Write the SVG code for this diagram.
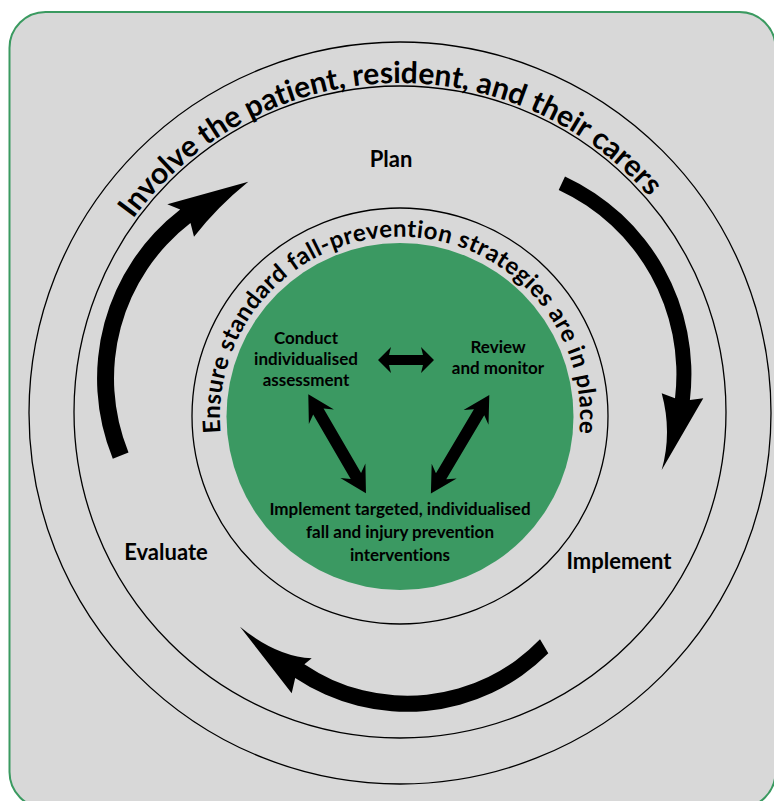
<svg xmlns="http://www.w3.org/2000/svg" width="774" height="801" viewBox="0 0 774 801">
  <style>
    text { font-variant-ligatures: none; font-feature-settings: "liga" 0, "clig" 0; }
    .lbl { font-family: "Lato", "Open Sans", sans-serif; font-weight: 700; fill: #000; text-anchor: middle; }
    .step { font-size: 22px; }
    .inner { font-size: 17px; }
    .ring { fill: none; stroke: #000; stroke-width: 1.3; }
    .arc-text { font-family: "Lato", "Open Sans", sans-serif; font-weight: 700; fill: #000; }
    .blk { fill: #000; stroke: none; }
  </style>
  <defs>
    <!-- text baselines -->
    <path id="outerBase" d="M75,470.3 A330,330 0 1 1 725,470.3"/>
    <path id="innerBase" d="M222.7,447.8 A180,180 0 1 1 577.3,447.8"/>
    <!-- double-headed arrow along the x axis -->
    <path id="dblLong" d="M0,0 L26,-14.5 L20,-6 L94.5,-6 L88.5,-14.5 L114.5,0 L88.5,14.5 L94.5,6 L20,6 L26,14.5 Z"/>
    <path id="dblShort" d="M0,0 L13,-13 L11,-5 L45,-5 L43,-13 L56,0 L43,13 L45,5 L11,5 L13,13 Z"/>
  </defs>

  <!-- background panel -->
  <g id="panel">
    <rect x="9.5" y="12" width="766" height="796" rx="36" ry="36" fill="#d8d8d8" stroke="#3a9a60" stroke-width="2"/>
  </g>

  <!-- concentric rings and central disc -->
  <g id="rings">
    <circle class="ring" cx="400" cy="413" r="371"/>
    <circle class="ring" cx="400" cy="412" r="326"/>
    <circle class="ring" cx="400" cy="416" r="208"/>
    <circle cx="400" cy="416.5" r="173.5" fill="#3b9962"/>
  </g>

  <!-- curved labels -->
  <g id="outer-label">
    <text class="arc-text" font-size="30"><textPath href="#outerBase" startOffset="265" textLength="593" lengthAdjust="spacing">Involve the patient, resident, and their carers</textPath></text>
  </g>
  <g id="inner-label">
    <text class="arc-text" font-size="24"><textPath href="#innerBase" startOffset="15" textLength="598" lengthAdjust="spacing">Ensure standard fall-prevention strategies are in place</textPath></text>
  </g>

  <!-- cycle stages -->
  <g id="plan"><text class="lbl step" x="391" y="167" font-size="21">Plan</text></g>
  <g id="implement"><text class="lbl step" x="619" y="569">Implement</text></g>
  <g id="evaluate"><text class="lbl step" x="166" y="560">Evaluate</text></g>

  <!-- cycle arrows -->
  <g id="cycle-arrows">
    <path class="blk" d="M112.8,458.8 A213,213 0 0 1 180.2,209.6 L167.3,204.3 L248.3,181.7 Q217,207 194,236.7 L190.5,223.1 A196,196 0 0 0 128.5,452.4 Z"/>
    <path class="blk" d="M558.7,190 L565,176.4 A218,218 0 0 1 689.9,400 L703.3,398.3 L661.7,470 Q672.3,432.3 661.7,393.3 L675,398.2 A203,203 0 0 0 558.7,190 Z"/>
    <path class="blk" d="M548.3,653.3 A200.5,200.5 0 0 1 295.2,678 L291.7,693.3 L240,626.7 Q276.2,656.5 311.7,658.3 L304.4,664.3 A184,184 0 0 0 540,639.3 Z"/>
  </g>

  <!-- central activities -->
  <g id="assess">
    <text class="lbl inner" x="306" y="344">Conduct</text>
    <text class="lbl inner" x="306" y="365">individualised</text>
    <text class="lbl inner" x="306" y="386">assessment</text>
  </g>
  <g id="review">
    <text class="lbl inner" x="498" y="353">Review</text>
    <text class="lbl inner" x="498" y="374">and monitor</text>
  </g>
  <g id="interventions">
    <text class="lbl inner" x="400" y="515">Implement targeted, individualised</text>
    <text class="lbl inner" x="400" y="538">fall and injury prevention</text>
    <text class="lbl inner" x="400" y="561">interventions</text>
  </g>

  <!-- links between the central activities -->
  <g id="links">
    <use href="#dblShort" class="blk" transform="translate(378,360)"/>
    <use href="#dblLong" class="blk" transform="translate(308.3,394.3) rotate(59.76)"/>
    <use href="#dblLong" class="blk" transform="translate(489.3,395) rotate(120.67)"/>
  </g>
</svg>
